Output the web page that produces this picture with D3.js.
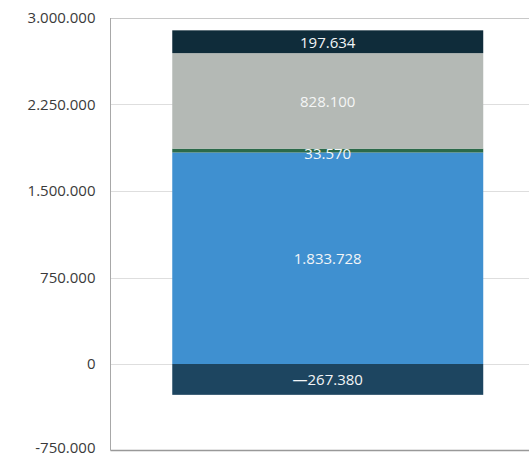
<!DOCTYPE html>
<html>
<head>
<meta charset="utf-8">
<script src="https://cdn.jsdelivr.net/npm/d3@7"></script>
<style>
  html, body { margin: 0; padding: 0; background: #fff; }
  svg { display: block; }
  text { font-family: "Open Sans", "Noto Sans", sans-serif; }
</style>
</head>
<body>
<svg id="chart" width="529" height="458"></svg>
<script>
// Single stacked column: one negative segment below zero, four positive segments above.
const categories = ["Total"];
const segmentNames = ["Negativ", "Basis", "Zuwachs", "Anteil", "Spitze"];
const segmentValues = [-267380, 1833728, 33570, 828100, 197634];
const segmentColors = ["#1d4560", "#3f90d0", "#2c6a4a", "#b4b9b5", "#0f2c3a"];
const tickValues = [-750000, 0, 750000, 1500000, 2250000, 3000000];

const locale = d3.formatLocale({ decimal: ",", thousands: ".", grouping: [3], currency: ["", ""], minus: "-" });
const tickFormat = locale.format(",.0f");
const labelLocale = d3.formatLocale({ decimal: ",", thousands: ".", grouping: [3], currency: ["", ""], minus: "\u2014" });
const labelFormat = labelLocale.format(",.0f");

const svg = d3.select("#chart");
const plot = { left: 110.5, top: 18, right: 545, bottom: 450.5 };

const y = d3.scaleLinear().domain([-750000, 3000000]).range([plot.bottom, plot.top]);
const x = d3.scaleBand().domain(categories).range([plot.left, plot.right]).paddingInner(0).paddingOuter(0.1986);

// stack positives upward from zero, negatives downward
let posAcc = 0, negAcc = 0;
const segments = segmentValues.map((v, i) => {
  let y0, y1;
  if (v >= 0) { y0 = posAcc; y1 = posAcc + v; posAcc = y1; }
  else { y0 = negAcc; y1 = negAcc + v; negAcc = y1; }
  return { name: segmentNames[i], value: v, y0, y1, color: segmentColors[i], cat: categories[0] };
});

// gridlines
svg.append("g")
  .selectAll("line")
  .data(tickValues.filter(t => t !== -750000))
  .join("line")
  .attr("x1", plot.left).attr("x2", 529)
  .attr("y1", d => Math.round(y(d)) + 0.5).attr("y2", d => Math.round(y(d)) + 0.5)
  .attr("stroke", d => d === 3000000 ? "#c8c8c8" : "#dedede")
  .attr("stroke-width", 1);

// y axis labels
const yAxis = d3.axisLeft(y).tickValues(tickValues).tickFormat(tickFormat).tickSize(0).tickPadding(15);
const gy = svg.append("g").attr("transform", `translate(${plot.left},0)`).call(yAxis);
gy.select(".domain").remove();
gy.selectAll("text").attr("font-size", 15).attr("fill", "#3a3a3a")
  .style("font-family", "'Open Sans', sans-serif")
  .attr("dy", d => d === -750000 ? "0.1em" : "0.32em");

// bars
svg.append("g")
  .selectAll("rect")
  .data(segments)
  .join("rect")
  .attr("x", d => x(d.cat))
  .attr("width", x.bandwidth())
  .attr("y", d => y(Math.max(d.y0, d.y1)))
  .attr("height", d => Math.abs(y(d.y0) - y(d.y1)))
  .attr("fill", d => d.color);

// value labels
svg.append("g")
  .selectAll("text")
  .data(segments)
  .join("text")
  .attr("x", d => x(d.cat) + x.bandwidth() / 2)
  .attr("y", d => (y(d.y0) + y(d.y1)) / 2 + (d.value === 33570 ? 2 : 0))
  .attr("text-anchor", "middle")
  .attr("dominant-baseline", "central")
  .attr("font-size", 15)
  .attr("fill", d => d.color === "#b4b9b5" ? "#f4f6f5" : "#f2f5f7")
  .text(d => labelFormat(d.value));

// frame: left and bottom axis lines
svg.append("line")
  .attr("x1", plot.left).attr("x2", plot.left)
  .attr("y1", plot.top).attr("y2", plot.bottom)
  .attr("stroke", "#a8a8a8").attr("stroke-width", 1);
svg.append("line")
  .attr("x1", plot.left).attr("x2", 529)
  .attr("y1", plot.bottom).attr("y2", plot.bottom)
  .attr("stroke", "#999").attr("stroke-width", 1.5);
</script>
</body>
</html>
